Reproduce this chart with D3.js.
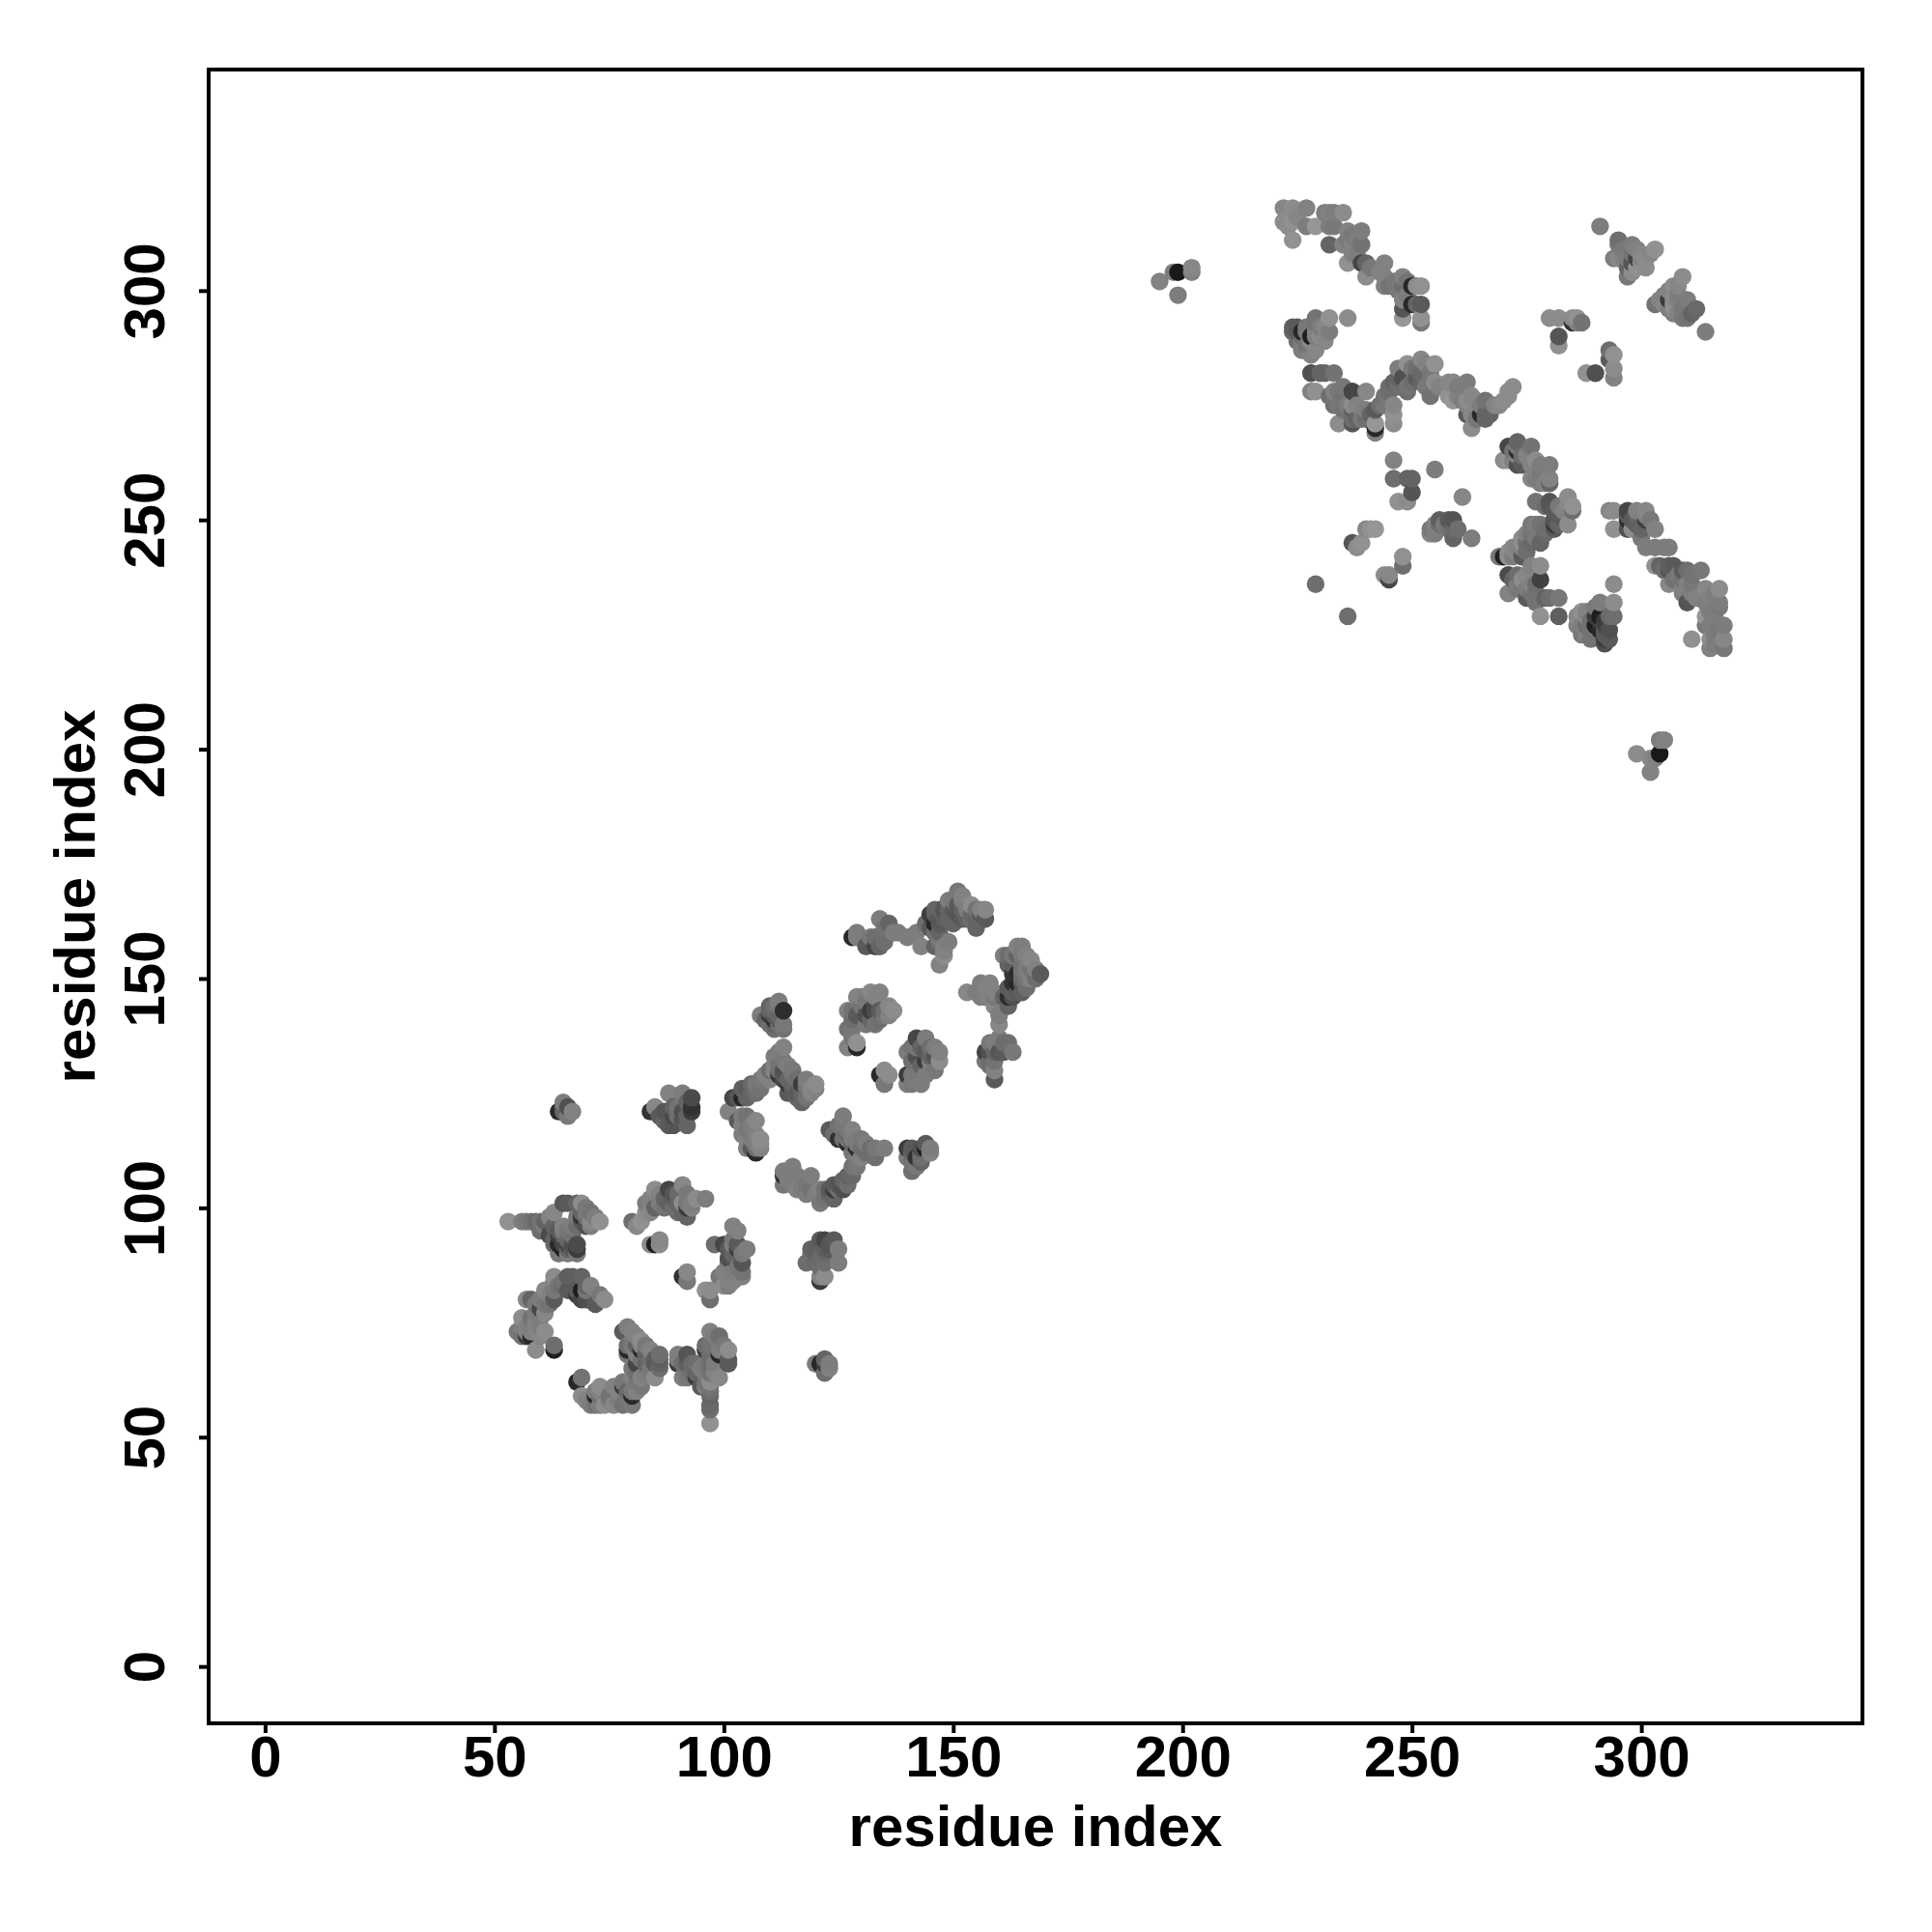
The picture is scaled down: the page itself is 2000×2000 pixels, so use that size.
<!DOCTYPE html>
<html><head><meta charset="utf-8">
<script src="https://cdn.jsdelivr.net/npm/d3@7"></script>
<style>html,body{margin:0;background:#fff}svg{display:block}text{font-family:"Liberation Sans",Arial,sans-serif;font-weight:bold;fill:#000}</style>
</head><body><div id="chart"></div>
<script>
// [residue i, residue j, grey level]
const upperStrandA=[[222,318,135],[224,318,140],[227,318,130],[231,317,125],[232,317,130],[235,317,140],[222,315,140],[224,315,145],[227,314,125],[229,314,150],[224,311,145],[232,314,125],[232,310,100],[236,313,130],[239,313,125],[235,310,130],[237,310,130],[239,310,115],[236,306,145],[239,306,70],[240,306,100],[240,303,140],[244,306,130],[244,303,130],[244,301,130],[248,303,130],[248,301,110],[250,301,40],[252,301,145],[248,298,130],[248,296,85],[250,297,40],[252,297,90],[248,294,150],[252,294,145],[252,293,120]];
const upperStrandB=[[229,294,115],[232,294,145],[236,294,140],[224,292,95],[225,292,90],[226,291,40],[228,290,30],[230,290,140],[232,291,125],[229,287,135],[226,288,125],[225,289,110],[226,289,125],[227,288,115],[228,289,140]];
const upperStrandC=[[228,282,80],[230,282,100],[233,282,115],[229,278,145],[228,278,130],[233,278,130],[237,278,70],[240,278,135],[233,275,110],[234,275,120],[237,274,95],[237,275,140],[234,271,140],[237,271,85],[237,272,110],[240,274,125],[242,274,90],[242,271,150],[242,270,40],[242,269,130],[245,278,110],[245,276,120],[246,273,145],[248,281,80],[249,284,145],[249,278,110],[249,279,115],[247,281,100],[251,281,90],[252,285,135],[253,284,130],[255,284,145],[255,280,140],[254,277,115],[258,280,135],[259,280,135],[262,280,125],[258,277,145],[259,276,150],[263,277,135],[266,276,115],[262,273,90],[263,273,135],[263,270,140],[265,273,40],[267,273,100],[270,276,140],[271,277,140],[272,279,140]];
const upperRight=[[291,314,125],[295,311,110],[295,310,120],[298,310,125],[294,307,125],[295,307,135],[297,303,120],[297,305,100],[299,307,70],[300,306,145],[301,307,140],[303,309,145],[299,305,145],[298,304,140],[309,303,140],[307,301,140],[303,297,115],[304,298,130],[306,298,60],[307,297,145],[307,295,125],[307,296,140],[310,298,125],[311,295,100],[310,294,115],[314,291,125],[280,294,140],[282,294,140],[285,294,140],[286,294,145],[285,293,50],[287,293,115],[282,290,85],[282,288,145],[293,287,110],[293,285,90],[294,286,145],[294,281,130],[294,283,140],[288,282,145],[290,282,80]];
const upperCentre=[[246,263,130],[255,261,125],[246,259,110],[249,259,100],[250,259,100],[250,256,85],[247,254,145],[249,254,140],[261,255,135],[273,267,100],[273,265,40],[271,266,70],[273,264,130],[273,262,80],[270,263,140],[271,263,145],[276,266,115],[277,263,140],[276,262,130],[280,262,125],[276,259,135],[277,259,125],[280,259,130],[280,258,100],[277,254,115],[280,254,85],[281,252,90],[284,255,140],[285,253,145],[285,252,110],[284,249,140],[281,249,60],[281,250,85],[281,248,90],[277,249,125],[278,249,115],[276,249,120],[278,245,100],[277,246,120],[274,246,140],[274,245,145],[274,242,90],[274,244,130],[273,244,130],[269,242,120],[270,242,30],[271,242,145],[278,240,140],[278,237,65],[271,238,75],[271,234,130],[272,237,100],[275,238,135],[274,237,140],[275,233,90],[275,235,125],[279,233,100],[282,233,120],[278,229,145],[282,229,95],[287,230,145],[286,229,135],[287,225,120],[288,227,110],[289,226,115],[291,232,125],[294,236,140],[294,232,140],[294,229,110],[291,229,30],[290,227,30],[292,225,90],[292,224,60],[291,226,40],[292,223,80]];
const upperTail=[[293,252,135],[294,252,140],[297,252,70],[297,250,45],[301,252,135],[301,250,60],[294,248,145],[297,248,80],[298,248,140],[300,248,100],[303,248,130],[301,244,125],[303,244,125],[306,244,125],[303,240,145],[306,240,95],[306,239,85],[309,239,90],[313,239,120],[306,236,135],[309,235,130],[309,234,125],[310,232,85],[314,235,135],[317,235,140],[314,232,125],[317,232,125],[317,231,120],[314,229,150],[314,227,120],[318,227,125],[311,224,145],[315,224,140],[318,224,135],[315,222,130],[318,222,120]];
const upperLoose=[[241,248,145],[240,248,135],[242,248,150],[237,245,85],[238,244,140],[239,245,145],[248,242,145],[248,240,110],[244,238,140],[245,237,70],[245,238,135],[229,236,110],[236,229,110],[256,250,95],[259,250,85],[254,248,120],[254,247,135],[255,249,130],[259,246,100],[263,246,125],[299,199,140],[302,195,130],[304,202,125],[305,202,130],[304,199,25],[302,198,135],[303,198,130],[195,302,130],[199,299,125],[199,304,25],[198,304,125],[202,305,135],[202,304,130]];
const upperFill=[[233,317,125],[223,316,140],[225,316,135],[223,314,140],[233,314,120],[237,312,120],[238,311,125],[236,311,120],[237,308,130],[238,308,125],[241,305,120],[243,304,130],[245,301,115],[246,302,120],[247,300,120],[249,299,125],[249,302,115],[251,301,140],[251,297,100],[227,292,120],[227,291,125],[226,290,110],[224,291,105],[225,291,90],[228,288,120],[226,287,125],[228,286,130],[229,290,125],[229,291,130],[229,293,115],[230,292,125],[231,289,135],[231,292,135],[231,282,100],[235,279,120],[235,277,115],[234,278,120],[232,277,110],[233,276,115],[235,274,115],[236,275,125],[238,275,130],[238,272,100],[239,272,120],[240,272,110],[241,273,100],[243,275,110],[244,277,115],[245,279,110],[246,280,100],[247,279,110],[247,283,125],[250,283,120],[251,283,110],[252,282,105],[250,280,110],[252,280,100],[254,282,120],[253,279,120],[256,279,130],[260,279,125],[260,277,130],[261,276,125],[262,276,140],[262,275,130],[264,276,135],[265,275,125],[264,272,120],[266,272,100],[266,273,100],[268,275,130],[269,275,135],[271,278,140],[246,275,135],[246,271,140],[244,275,120],[286,293,130],[273,266,120],[272,265,115],[272,263,130],[274,264,110],[274,262,90],[275,264,130],[277,261,130],[278,262,125],[278,260,120],[279,258,130],[278,258,125],[279,253,110],[280,253,90],[282,251,90],[283,252,130],[284,253,135],[282,253,120],[282,249,100],[279,248,110],[279,247,105],[276,247,115],[275,247,130],[275,245,110],[275,243,110],[273,243,135],[272,242,125],[272,244,135],[276,245,105],[276,240,130],[276,236,130],[273,238,110],[273,236,125],[273,235,120],[274,235,120],[277,236,110],[277,234,115],[280,233,110],[276,234,115],[277,232,115],[271,243,140],[288,230,130],[288,229,135],[288,225,130],[289,228,110],[290,225,115],[290,229,60],[290,231,120],[292,228,60],[291,228,60],[293,229,105],[293,226,80],[292,226,90],[292,227,70],[293,224,90],[287,227,125],[286,227,130],[289,224,115],[305,244,125],[304,240,100],[305,239,110],[307,240,90],[310,239,110],[311,238,115],[308,238,120],[307,237,115],[309,237,115],[311,236,120],[310,236,130],[311,234,125],[312,233,130],[313,233,130],[315,233,130],[316,234,125],[316,232,125],[315,230,125],[316,229,125],[315,227,125],[316,225,125],[317,226,120],[317,224,125],[316,223,125],[297,251,90],[301,251,130],[299,251,100],[299,249,95],[299,252,130],[298,250,90],[302,250,120],[300,246,120],[296,309,120],[296,307,130],[297,307,125],[298,308,115],[298,306,85],[299,309,130],[300,307,130],[300,308,135],[302,308,135],[301,305,140],[305,299,130],[305,297,135],[306,300,130],[307,298,140],[308,301,135],[308,299,125],[308,298,130],[306,296,125],[308,295,130],[309,296,120],[309,294,120],[312,296,105],[256,249,110],[258,250,90],[258,248,115],[257,249,120],[255,247,125],[260,248,110],[259,248,105]];
const lowerA=[[53,97,145],[56,97,125],[57,97,120],[59,97,105],[63,99,135],[62,98,130],[66,101,90],[65,101,85],[69,101,140],[68,101,100],[71,99,115],[70,99,120],[73,97,145],[69,97,90],[69,98,50],[70,96,80],[60,95,110],[62,94,75],[63,96,100],[63,92,105],[64,92,40],[65,96,130],[65,95,125],[64,94,60],[65,94,100],[65,91,30],[66,90,125],[68,90,120],[68,92,75],[68,91,60],[69,99,100],[65,92,70],[66,92,70],[61,96,125],[61,97,100],[63,93,100],[64,95,90],[66,93,105],[66,91,100],[67,92,80],[67,91,90],[64,90,120],[67,94,115],[66,95,120],[67,96,125],[68,96,110],[70,98,110],[71,96,125],[70,100,120],[72,98,125],[71,97,135],[68,98,120],[60,97,115],[58,97,115]];
const lowerB=[[63,85,140],[66,85,95],[67,85,95],[69,85,100],[66,82,90],[68,81,60],[69,82,30],[71,83,130],[69,80,70],[70,80,80],[72,79,90],[73,81,120],[74,80,140],[61,82,135],[63,82,120],[62,81,130],[63,80,90],[58,80,100],[60,78,70],[61,77,135],[57,80,135],[56,76,140],[58,76,115],[57,74,130],[56,72,115],[57,72,60],[58,72,40],[61,73,140],[59,69,140],[63,69,30],[63,70,110],[70,83,100],[70,82,120],[68,82,90],[57,73,130],[59,73,130],[58,73,130],[59,79,120],[60,80,125],[59,77,125],[58,74,125],[59,75,130],[60,76,125],[62,79,115],[61,79,120],[64,83,115],[63,84,130],[65,84,115],[65,83,105],[60,72,135],[60,74,125],[56,74,125],[55,73,120]];
const lowerC=[[68,62,40],[69,63,115],[69,59,140],[72,57,115],[72,59,40],[73,61,140],[74,57,140],[76,61,130],[76,57,135],[78,57,115],[78,61,60],[80,57,120],[80,59,40],[80,63,130],[82,61,120],[82,63,130],[85,63,140],[79,74,125],[80,73,130],[78,73,90],[82,71,140],[79,69,40],[81,68,130],[84,69,130],[85,67,90],[85,66,90],[82,69,40],[79,68,120],[81,66,70],[83,66,100],[73,60,130],[72,60,125],[78,62,120],[80,60,120],[81,60,130],[79,70,110],[80,70,125],[82,70,130],[83,70,120],[70,58,130],[71,57,125],[73,59,115],[73,57,125],[75,59,115],[75,58,125],[77,58,125],[77,60,130],[79,59,120],[79,60,105],[81,62,120],[81,64,110],[80,65,120],[83,64,125],[84,65,120],[82,67,115],[84,67,110],[83,68,100],[80,71,120],[81,72,130],[81,70,100],[86,65,110],[86,68,110],[86,66,100],[86,67,95]];
const lowerD=[[90,68,125],[92,68,85],[90,66,60],[91,63,125],[94,66,110],[94,63,60],[95,61,90],[94,64,100],[97,73,130],[99,72,110],[96,69,60],[97,68,110],[99,68,40],[101,69,140],[101,67,90],[101,66,90],[96,64,125],[97,59,100],[97,57,105],[97,56,110],[97,53,145],[99,63,135],[97,62,140],[96,61,130],[90,67,125],[96,70,110],[99,69,125],[100,69,130],[91,66,110],[92,65,115],[93,64,110],[95,65,125],[96,66,120],[96,62,115],[97,64,115],[97,66,110],[98,69,115],[97,70,115],[98,72,125],[98,66,125],[98,64,130],[100,70,120],[97,60,110],[97,61,115],[92,66,95],[93,66,105],[92,63,120]];
const lowerE=[[80,97,110],[82,97,145],[83,101,125],[85,104,140],[85,100,100],[88,104,70],[90,101,100],[89,100,110],[88,101,95],[91,105,135],[91,101,140],[92,100,60],[92,98,100],[94,102,140],[96,102,125],[84,92,140],[85,92,30],[86,92,140],[86,93,135],[91,85,50],[92,86,135],[92,84,120],[92,101,120],[86,101,125],[86,103,130],[87,100,115],[87,102,100],[84,102,130],[83,99,140],[89,103,85],[89,102,95],[90,103,105],[90,99,110],[93,100,130],[93,101,125],[91,99,100],[92,103,120],[81,96,135],[84,99,135]];
const lowerF=[[98,92,110],[102,96,130],[102,92,130],[100,92,70],[101,89,80],[103,91,60],[105,91,125],[104,88,85],[104,85,130],[101,88,125],[99,85,120],[101,83,125],[97,82,140],[96,82,145],[97,80,110],[121,93,90],[122,93,70],[124,93,90],[119,91,100],[125,91,125],[125,88,125],[118,88,110],[121,87,110],[121,84,60],[121,85,130],[122,85,140],[121,89,105],[120,66,125],[121,66,40],[122,66,60],[123,65,130],[122,64,110],[122,67,100],[123,66,125],[103,92,90],[103,95,130],[102,93,120],[101,91,90],[102,89,85],[102,90,100],[103,86,125],[104,86,115],[102,86,125],[100,86,130],[101,84,130],[100,83,140],[102,84,130],[103,87,120],[104,90,120],[119,90,110],[120,90,100],[120,88,105],[122,90,105],[123,91,90],[122,88,110],[123,92,85],[120,91,95],[122,91,95]];
const lowerG=[[65,123,125],[64,121,40],[66,122,80],[67,121,130],[66,120,120],[65,122,100],[65,121,100],[88,125,130],[91,125,125],[93,124,75],[93,121,60],[93,122,50],[84,121,50],[85,122,135],[87,121,85],[89,120,75],[88,118,90],[91,119,85],[90,120,110],[89,122,100],[90,122,115],[86,120,90],[87,119,100],[89,118,85],[91,121,80],[92,120,100],[92,123,100],[92,118,100]];
const lowerH=[[101,121,130],[102,124,70],[104,126,95],[106,125,100],[107,127,120],[104,124,40],[107,125,110],[109,129,130],[110,130,110],[111,133,125],[113,135,130],[113,132,120],[114,131,125],[112,129,50],[114,127,60],[116,128,110],[117,127,60],[114,125,90],[117,123,100],[119,126,135],[120,127,140],[120,126,130],[103,119,90],[105,120,115],[107,119,135],[104,116,125],[105,113,130],[107,112,40],[108,115,140],[107,114,125],[104,118,130],[108,142,125],[110,142,60],[112,145,125],[111,144,110],[111,140,100],[113,143,45],[113,140,120],[111,141,50],[113,139,115],[105,125,100],[105,124,100],[113,129,90],[112,130,110],[114,128,100],[118,127,120],[108,113,130],[112,141,90],[111,142,90],[106,127,105],[105,126,90],[103,124,85],[108,126,115],[108,128,120],[110,128,130],[111,130,130],[111,131,130],[112,131,115],[112,134,125],[115,130,120],[113,130,80],[113,128,70],[115,127,100],[115,126,90],[116,125,90],[116,124,100],[118,124,115],[118,126,110],[119,125,130],[115,129,115],[117,125,100],[118,128,125],[104,120,125],[106,118,125],[106,116,120],[105,117,120],[106,115,125],[106,113,90],[107,116,130],[105,115,130],[107,113,110],[108,114,135],[110,143,100],[110,144,100],[110,140,110],[111,143,105],[112,142,100],[112,144,120],[112,140,115],[111,139,110],[109,141,100]];
const lowerI=[[127,143,130],[127,139,115],[127,135,130],[129,136,145],[129,135,40],[129,142,90],[129,146,130],[132,147,135],[134,147,130],[132,143,60],[133,144,75],[133,140,115],[134,141,110],[137,143,140],[136,142,130],[134,129,40],[135,130,140],[136,129,140],[135,127,120],[140,129,60],[141,129,120],[140,127,125],[143,127,125],[142,137,70],[144,137,125],[140,134,125],[142,133,80],[144,132,60],[145,132,130],[147,134,130],[146,133,85],[147,132,140],[146,130,120],[143,130,120],[133,143,80],[128,139,120],[128,141,110],[128,143,115],[130,144,115],[131,145,120],[130,146,130],[131,142,80],[132,141,100],[131,140,120],[133,146,130],[134,143,90],[135,143,110],[135,142,120],[136,144,135],[128,137,120],[141,132,110],[141,135,115],[143,135,100],[143,131,100],[144,134,90],[145,135,110],[145,133,100],[146,135,125],[142,129,120],[141,127,120],[144,129,125],[145,130,125],[142,135,120],[142,128,125]];
const lowerJ=[[126,120,125],[123,117,90],[125,118,115],[128,117,130],[125,115,50],[127,114,40],[128,115,125],[129,113,45],[131,114,125],[133,113,120],[135,113,125],[133,111,110],[130,111,130],[128,109,115],[127,107,100],[125,105,85],[124,104,60],[124,102,100],[127,106,110],[115,109,125],[113,107,50],[113,105,120],[116,107,125],[119,107,125],[119,104,115],[121,104,130],[121,101,120],[116,104,130],[140,113,60],[144,113,30],[140,111,125],[145,112,130],[141,108,110],[142,111,50],[143,112,110],[126,115,110],[127,115,120],[130,113,110],[129,114,120],[113,108,125],[114,108,125],[125,104,110],[124,105,90],[141,113,90],[145,113,125],[144,114,90],[143,111,110],[124,116,110],[126,118,120],[127,117,120],[127,116,105],[128,114,100],[129,115,125],[130,115,120],[131,112,110],[132,113,110],[129,109,120],[128,107,105],[127,105,110],[126,106,100],[126,104,80],[123,104,90],[123,103,100],[122,102,115],[118,105,120],[117,106,125],[114,106,125],[115,105,125],[117,104,125],[118,103,125],[120,103,125],[122,104,115],[141,112,100],[143,113,80],[141,110,115],[142,109,120],[143,110,100],[129,111,125],[128,112,120]];
const lowerK=[[128,159,40],[129,160,125],[129,159,125],[131,157,90],[134,163,125],[136,162,100],[133,159,110],[133,157,70],[134,157,100],[137,160,125],[140,159,125],[144,162,110],[143,157,130],[146,162,40],[145,164,60],[146,157,100],[148,157,130],[149,158,125],[148,155,140],[147,153,130],[148,165,85],[149,167,125],[151,169,120],[152,168,130],[150,165,90],[155,161,100],[152,165,100],[153,165,125],[154,166,140],[156,164,90],[157,165,135],[156,165,130],[147,163,85],[147,162,90],[146,164,90],[146,165,100],[132,159,120],[135,161,115],[135,159,110],[132,158,90],[135,158,110],[138,160,125],[142,160,125],[145,161,90],[147,160,100],[147,159,120],[147,158,115],[148,156,130],[147,165,100],[148,163,95],[149,165,100],[149,163,100],[150,167,120],[151,166,90],[152,167,125],[153,163,100],[154,163,110],[154,164,105],[155,165,115],[155,163,100],[157,163,90],[151,164,85],[152,163,90],[150,162,100],[146,160,110]];
const lowerL=[[161,155,125],[164,157,130],[165,157,125],[164,155,100],[163,153,95],[167,154,135],[168,152,130],[169,151,90],[167,150,130],[164,151,45],[164,149,40],[162,146,45],[162,144,100],[164,147,90],[166,148,110],[153,147,135],[156,149,125],[158,149,130],[158,146,130],[156,146,125],[159,144,135],[160,140,135],[157,134,70],[159,136,125],[158,134,80],[162,136,110],[163,134,120],[157,132,120],[159,134,100],[159,128,90],[159,130,130],[158,131,110],[165,151,110],[165,152,120],[165,149,90],[165,150,110],[163,146,80],[163,147,95],[162,153,100],[162,155,110],[163,155,120],[165,155,120],[166,155,130],[166,152,125],[165,153,115],[166,150,120],[163,149,50],[163,151,55],[165,147,95],[167,152,115],[168,150,110],[161,146,100],[162,148,90],[155,147,125],[157,148,130],[157,146,125],[159,147,130],[159,146,120],[160,142,125],[161,136,110],[160,134,85],[161,134,90],[158,136,120],[160,137,125],[158,132,110],[159,132,115]];
const tickValues=[0,50,100,150,200,250,300];
const axisTitle="residue index";

const contacts=[upperStrandA,upperStrandB,upperStrandC,upperRight,upperCentre,upperTail,upperLoose,upperFill,lowerA,lowerB,lowerC,lowerD,lowerE,lowerF,lowerG,lowerH,lowerI,lowerJ,lowerK,lowerL].flat()
  .sort((a,b)=>d3.ascending(a[0],b[0])||d3.ascending(a[1],b[1]));

const svg=d3.select("#chart").append("svg").attr("width",2000).attr("height",2000);
const L=216,R=1928,T=72,B=1784;
const x=d3.scaleLinear().domain([-12.3,348.2]).range([L,R]);
const y=d3.scaleLinear().domain([-12.4,348.2]).range([B,T]);
const shade=d3.scaleLinear().domain([0,255]).range(["#000","#fff"]);

svg.append("g").selectAll("circle").data(contacts).join("circle")
  .attr("cx",d=>x(d[0])).attr("cy",d=>y(d[1])).attr("r",9.2).attr("fill",d=>shade(d[2]));

svg.append("rect").attr("x",L).attr("y",T).attr("width",R-L).attr("height",B-T)
  .attr("fill","none").attr("stroke","#000").attr("stroke-width",4);

const gx=svg.append("g").attr("transform",`translate(0,${B})`)
  .call(d3.axisBottom(x).tickValues(tickValues).tickSize(10).tickFormat(d3.format("d")));
const gy=svg.append("g").attr("transform",`translate(${L},0)`)
  .call(d3.axisLeft(y).tickValues(tickValues).tickSize(10).tickFormat(d3.format("d")));
[gx,gy].forEach(g=>{g.select(".domain").remove();g.selectAll("line").attr("stroke","#000").attr("stroke-width",4);});
gx.selectAll("text").attr("y",55).attr("dy",0).attr("font-size",60).style("font-family",'"Liberation Sans"').style("font-weight","bold").attr("fill","#000");
gy.selectAll("text").attr("transform","rotate(-90)").attr("x",0).attr("y",-46).attr("dy",0).attr("text-anchor","middle").attr("font-size",60).style("font-family",'"Liberation Sans"').style("font-weight","bold").attr("fill","#000");

svg.append("text").attr("x",(L+R)/2).attr("y",1911).attr("text-anchor","middle").attr("font-size",60).text(axisTitle);
svg.append("text").attr("transform",`translate(98,${(T+B)/2}) rotate(-90)`).attr("text-anchor","middle").attr("font-size",60).text(axisTitle);
</script></body></html>
